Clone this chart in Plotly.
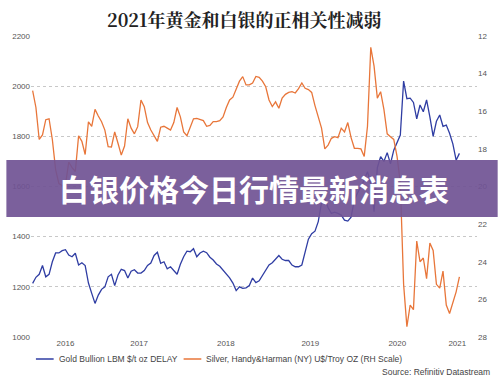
import pandas as pd
import plotly.graph_objects as go

# ---- data ----
dates = pd.date_range("2016-04-01", periods=131, freq="14D")

gold = [1214, 1238, 1250, 1285, 1240, 1250, 1300, 1335, 1335, 1344,
        1348, 1327, 1320, 1334, 1287, 1296, 1285, 1215, 1174, 1134,
        1167, 1190, 1200, 1240, 1250, 1205, 1247, 1270, 1265, 1235,
        1262, 1268, 1255, 1255, 1265, 1285, 1295, 1325, 1338, 1294,
        1300, 1272, 1280, 1267, 1250, 1290, 1320, 1342, 1340, 1352,
        1320, 1335, 1342, 1336, 1318, 1307, 1291, 1282, 1267, 1255,
        1236, 1215, 1185, 1200, 1194, 1196, 1205, 1235, 1217, 1224,
        1245, 1268, 1287, 1296, 1310, 1325, 1310, 1305, 1305, 1287,
        1280, 1280, 1287, 1345, 1390, 1412, 1422, 1460, 1535, 1550,
        1515, 1493, 1498, 1493, 1486, 1466, 1462, 1478, 1546, 1575,
        1600, 1626, 1659, 1610, 1500, 1675, 1719, 1700, 1735, 1690,
        1745, 1778, 1805, 2020, 1950, 1952, 1935, 1870, 1925, 1898,
        1945, 1878, 1800, 1860, 1885, 1840, 1845, 1812, 1770, 1705,
        1732]

silver = [14.91, 15.8, 17.5, 17.26, 16.45, 16.4, 17.5, 19.1, 19.85, 19.95,
          19.9, 18.7, 19.0, 19.2, 17.3, 17.6, 18.3, 16.56, 16.8, 15.9,
          16.25, 16.56, 17.0, 17.88, 17.9, 17.1, 17.7, 18.33, 17.85, 16.4,
          16.9, 17.2, 16.82, 15.4, 15.76, 16.6, 17.0, 17.3, 17.6, 16.85,
          16.8, 16.9, 17.0, 16.6, 15.8, 16.3, 17.1, 17.3, 16.8, 16.4,
          16.38, 16.45, 16.5, 16.8, 16.75, 16.55, 16.55, 16.5, 16.3, 15.8,
          15.4, 15.25, 14.8, 14.4, 14.16, 14.6, 14.6, 14.5, 14.15, 14.2,
          14.4, 14.7, 15.4, 15.75, 15.5, 15.84, 15.3, 15.1, 15.0, 14.96,
          15.03, 14.8, 14.5, 14.78, 14.85, 15.0, 15.7, 16.3, 16.9, 18.0,
          17.8, 17.44, 17.35, 17.4, 16.9, 17.1, 16.6, 17.4, 17.97, 17.97,
          18.0, 18.4, 16.8, 12.6, 13.6, 15.3, 14.96, 15.9, 17.2, 17.35,
          17.5, 18.4, 19.8, 25.2, 27.45, 26.3, 26.55, 22.9, 24.0, 23.8,
          24.9, 23.0, 23.4, 25.2, 25.4, 24.5, 26.3, 26.75, 26.2, 25.6,
          24.8]

x_tick_vals = ["2016-08-19", "2017-06-29", "2018-07-04", "2019-06-29", "2020-07-04", "2021-03-17"]
x_tick_text = ["2016", "2017", "2018", "2019", "2020", "2021"]
left_ticks = [1000, 1200, 1400, 1600, 1800, 2000, 2200]
right_ticks = [12, 14, 16, 18, 20, 22, 24, 26, 28]

title_text = "2021年黄金和白银的正相关性减弱"
banner_text = "白银价格今日行情最新消息表"
gold_name = "Gold Bullion LBM $/t oz DELAY"
silver_name = "Silver, Handy&Harman (NY) U$/Troy OZ (RH Scale)"
source_text = "Source: Refinitiv Datastream"

GOLD_C = "#2f3da3"
SILVER_C = "#e8763a"
TICK_FONT = dict(family="Liberation Sans, Arial, sans-serif", size=8, color="#555555")

fig = go.Figure()
fig.add_trace(go.Scatter(x=dates, y=gold, mode="lines", name=gold_name,
                         line=dict(color=GOLD_C, width=1.3), yaxis="y"))
fig.add_trace(go.Scatter(x=dates, y=silver, mode="lines", name=silver_name,
                         line=dict(color=SILVER_C, width=1.3), yaxis="y2"))

W, H = 499, 379
L, R, T, B = 25, 21, 36, 42
pw, ph = W - L - R, H - T - B

def px(xp):
    return (xp - L) / pw

def py(yp):
    return 1 - (yp - T) / ph

fig.update_layout(
    width=W, height=H,
    margin=dict(l=L, r=R, t=T, b=B),
    paper_bgcolor="white", plot_bgcolor="white",
    showlegend=False,
    xaxis=dict(type="date", range=["2016-03-25", "2021-06-09"],
               tickvals=x_tick_vals, ticktext=x_tick_text,
               showgrid=False, zeroline=False, showline=False,
               ticks="", tickfont=TICK_FONT),
    yaxis=dict(range=[1000, 2200], tickvals=left_ticks,
               showgrid=True, gridcolor="#c8c8c8", griddash="dot", gridwidth=1,
               zeroline=False, showline=False, ticks="", tickfont=TICK_FONT),
    yaxis2=dict(range=[28, 12], tickvals=right_ticks, overlaying="y", side="right",
                showgrid=False, zeroline=False, showline=False, ticks="",
                tickfont=TICK_FONT),
)

# legend (manual)
fig.add_shape(type="line", xref="paper", yref="paper", x0=px(30), x1=px(48),
              y0=py(359), y1=py(359), line=dict(color=GOLD_C, width=1.5))
fig.add_shape(type="line", xref="paper", yref="paper", x0=px(180), x1=px(198),
              y0=py(359), y1=py(359), line=dict(color=SILVER_C, width=1.5))
leg_font = dict(family="Liberation Sans, Arial, sans-serif", size=8.5, color="#444444")
fig.add_annotation(text=gold_name, xref="paper", yref="paper", x=px(51), y=py(359),
                   xanchor="left", yanchor="middle", showarrow=False, font=leg_font)
fig.add_annotation(text=silver_name, xref="paper", yref="paper", x=px(201), y=py(359),
                   xanchor="left", yanchor="middle", showarrow=False, font=leg_font)
fig.add_annotation(text=source_text, xref="paper", yref="paper", x=px(493), y=py(372),
                   xanchor="right", yanchor="middle", showarrow=False, font=leg_font)

# title
fig.add_annotation(text="<b>" + title_text + "</b>", xref="paper", yref="paper",
                   x=px(241), y=py(19), xanchor="center", yanchor="middle", showarrow=False,
                   font=dict(family="Noto Serif CJK SC, Noto Sans CJK SC", size=18, color="#222222"))

# banner
fig.add_shape(type="rect", xref="paper", yref="paper", x0=px(0), x1=px(499),
              y0=py(217), y1=py(160), line=dict(width=0),
              fillcolor="rgba(112,82,148,0.92)", layer="above")
fig.add_annotation(text="<b>" + banner_text + "</b>", xref="paper", yref="paper",
                   x=px(251), y=py(188), xanchor="center", yanchor="middle", showarrow=False,
                   font=dict(family="Noto Sans CJK SC", size=30, color="white"))

fig.write_html("out.html", config={"displayModeBar": False},
               post_script="document.body.style.margin='0';document.body.style.overflow='hidden';")
